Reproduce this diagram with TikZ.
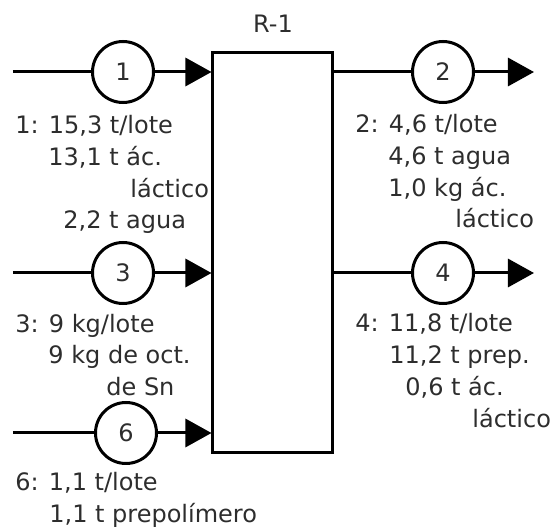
\documentclass[tikz,border=0pt]{standalone}
\usepackage{fontspec}
\setmainfont{DejaVu Sans}
\usetikzlibrary{arrows.meta,positioning}
\definecolor{ink}{RGB}{45,45,45}

\begin{document}
\begin{tikzpicture}[
  x=0.5pt, y=-0.5pt,
  every node/.style={font=\fontsize{12}{16}\selectfont, text=ink},
  stream/.style={draw, circle, line width=1.5pt, minimum size=30.5pt, inner sep=0pt},
  flow/.style={line width=1.5pt},
  info/.style={anchor=base west, align=left, inner sep=0pt},
  >={Triangle[length=13pt,width=14pt]}
]
\useasboundingbox (0,0) rectangle (554,530);

% Reactor
\node[draw, line width=1.5pt, minimum width=60pt, minimum height=200pt,
      inner sep=0pt] (R1) at (273,252.5) {};
\node (lbl) at (273,24) {R-1};

% Inlet streams
\coordinate (in1) at (13,72);
\coordinate (in3) at (13,273);
\coordinate (in6) at (13,433);
\node[stream] (s1) at (123,72) {1};
\node[stream] (s3) at (123,273) {3};
\node[stream] (s6) at (126,433) {6};
\foreach \s/\c in {s1/in1, s3/in3, s6/in6} {
  \draw[flow] (\c) -- (\s);
  \draw[flow, ->] (\s) -- (\s -| R1.west);
}

% Outlet streams
\coordinate (out2) at (534,72);
\coordinate (out4) at (534,273);
\node[stream] (s2) at (443,72) {2};
\node[stream] (s4) at (443,273) {4};
\foreach \s/\c in {s2/out2, s4/out4} {
  \draw[flow] (\s -| R1.east) -- (\s);
  \draw[flow, ->] (\s) -- (\c);
}

% Stream data (anchored at the baseline of the last line)
\node[info] (d1) at (15,229) {1: 15,3 t/lote\\\hspace*{16.5pt}13,1 t ác.\\
  \hspace*{57.5pt}láctico\\\hspace*{24pt}2,2 t agua};
\node[info] (d2) at (355,228) {2: 4,6 t/lote\\\hspace*{16.5pt}4,6 t agua\\
  \hspace*{16.5pt}1,0 kg ác.\\\hspace*{50pt}láctico};
\node[info] (d3) at (15,396) {3: 9 kg/lote\\\hspace*{16.5pt}9 kg de oct.\\
  \hspace*{45.5pt}de Sn};
\node[info] (d4) at (355,428) {4: 11,8 t/lote\\\hspace*{17pt}11,2 t prep.\\
  \hspace*{25pt}0,6 t ác.\\\hspace*{58.5pt}láctico};
\node[info] (d6) at (15,523) {6: 1,1 t/lote\\\hspace*{17pt}1,1 t prepolímero};

\end{tikzpicture}
\end{document}
